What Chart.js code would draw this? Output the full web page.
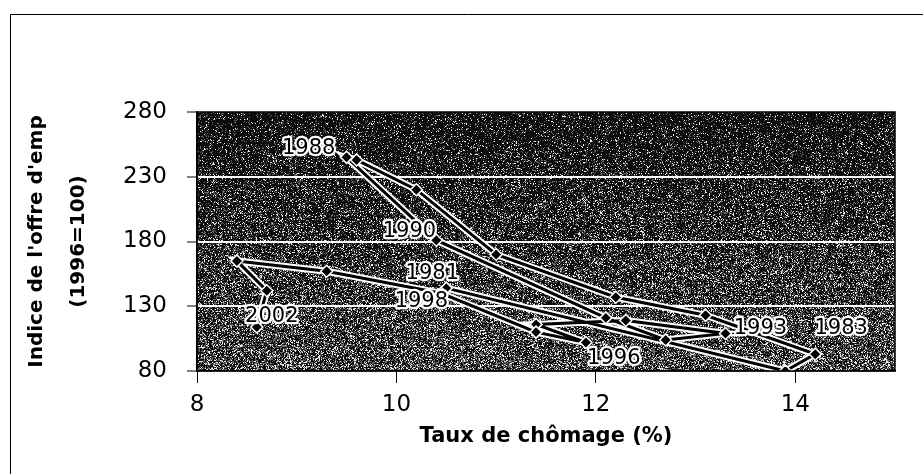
<!DOCTYPE html>
<html>
<head>
<meta charset="utf-8">
<script src="https://cdn.jsdelivr.net/npm/chart.js@4.4.1/dist/chart.umd.min.js"></script>
<style>
  html, body { margin: 0; padding: 0; background: #ffffff; }
  #wrap { width: 923px; height: 474px; position: relative; }
</style>
</head>
<body>
<div id="wrap"><canvas id="c" width="923" height="474"></canvas></div>
<script>
// ---- data ----
const years = [1981,1982,1983,1984,1985,1986,1987,1988,1989,1990,1991,1992,1993,1994,1995,1996,1997,1998,1999,2000,2001,2002];
const unemployment = [10.5,13.9,14.2,13.1,12.2,11.0,10.2,9.6,9.5,10.4,12.1,12.7,13.3,12.3,11.4,11.9,11.4,10.45,9.3,8.4,8.7,8.6];
const vacancyIndex = [144,80,93,123,137,170,220,243,245,181,121,104,109,119,116,102,110,140,157,165,142,114];
const xTicks = [8,10,12,14];
const yTicks = [80,130,180,230,280];
// year labels shown on the chart and where they sit (in data units)
const labelYears = ['1988','1990','1981','1998','2002','1993','1983','1996'];
const labelX = [9.12,10.13,10.36,10.25,8.75,13.65,14.46,12.18];
const labelY = [252,188,155,134,122,113,113,90];

const xTitle = 'Taux de chômage (%)';
const yTitleLines = ["Indice de l'offre d'emp", '(1996=100)'];

const points = unemployment.map((u, i) => ({x: u, y: vacancyIndex[i]}));

// deterministic speckle texture for the plot background
function hash(x, y) {
  let h = (x * 374761393 + y * 668265263) | 0;
  h = Math.imul(h ^ (h >>> 13), 1274126177);
  h = h ^ (h >>> 16);
  return (h >>> 0) / 4294967296;
}
let texCache = null;
function getTexture(w, h) {
  if (texCache && texCache.width === w && texCache.height === h) return texCache;
  const cv = document.createElement('canvas');
  cv.width = w; cv.height = h;
  const cx = cv.getContext('2d');
  const img = cx.createImageData(w, h);
  for (let y = 0; y < h; y++) {
    const f = y / h;
    const pw = 0.05 + 0.14 * f;
    const pg = 0.10 + 0.22 * f;
    for (let x = 0; x < w; x++) {
      const r = hash(x, y);
      let v;
      if (r < pw) v = 235; else if (r < pw + pg) v = 105; else v = 12;
      const k = (y * w + x) * 4;
      img.data[k] = v; img.data[k+1] = v; img.data[k+2] = v; img.data[k+3] = 255;
    }
  }
  cx.putImageData(img, 0, 0);
  texCache = cv;
  return cv;
}

const framePlugin = {
  id: 'frame',
  beforeDraw(chart) {
    const {ctx, chartArea: a} = chart;
    ctx.save();
    ctx.strokeStyle = '#000';
    ctx.lineWidth = 1;
    ctx.beginPath();
    ctx.moveTo(10.5, 480); ctx.lineTo(10.5, 14.5); ctx.lineTo(930, 14.5);
    ctx.stroke();
    const w = Math.round(a.right - a.left), h = Math.round(a.bottom - a.top);
    ctx.drawImage(getTexture(w, h), a.left, a.top);
    ctx.restore();
  },
  afterDatasetsDraw(chart) {
    const {ctx, chartArea: a, scales} = chart;
    ctx.save();
    ctx.strokeStyle = '#000';
    ctx.lineWidth = 1.5;
    ctx.strokeRect(a.left, a.top, a.right - a.left, a.bottom - a.top);
    // year labels
    ctx.font = '21px "DejaVu Sans"';
    ctx.textAlign = 'center';
    ctx.textBaseline = 'middle';
    ctx.lineJoin = 'round';
    labelYears.forEach((t, i) => {
      const px = scales.x.getPixelForValue(labelX[i]);
      const py = scales.y.getPixelForValue(labelY[i]);
      ctx.strokeStyle = '#fff';
      ctx.lineWidth = 4.5;
      ctx.strokeText(t, px, py);
      ctx.fillStyle = '#000';
      ctx.fillText(t, px, py);
    });
    // axis titles
    ctx.fillStyle = '#000';
    ctx.font = 'bold 21px "DejaVu Sans"';
    ctx.textAlign = 'center';
    ctx.textBaseline = 'middle';
    ctx.fillText(xTitle, (a.left + a.right) / 2, 437);
    const cy = (a.top + a.bottom) / 2;
    [[37, yTitleLines[0]], [79, yTitleLines[1]]].forEach(([x, t]) => {
      ctx.save();
      ctx.translate(x, cy);
      ctx.rotate(-Math.PI / 2);
      ctx.font = 'bold 20px "DejaVu Sans"';
      ctx.fillText(t, 0, 0);
      ctx.restore();
    });
    ctx.restore();
  }
};

new Chart(document.getElementById('c'), {
  type: 'scatter',
  data: {
    datasets: [
      {
        data: points,
        showLine: true,
        borderColor: '#ffffff',
        borderWidth: 7,
        pointRadius: 0,
        order: 2
      },
      {
        data: points,
        showLine: true,
        borderColor: '#000000',
        borderWidth: 3,
        pointStyle: 'rectRot',
        pointRadius: 6,
        pointBackgroundColor: '#000000',
        pointBorderColor: '#ffffff',
        pointBorderWidth: 1.5,
        order: 1
      }
    ]
  },
  options: {
    responsive: false,
    animation: false,
    devicePixelRatio: 1,
    layout: { padding: { left: 0, top: 112, right: 28, bottom: 0 } },
    plugins: { legend: { display: false }, tooltip: { enabled: false } },
    scales: {
      x: {
        type: 'linear',
        min: 8, max: 15,
        afterBuildTicks(scale) { scale.ticks = xTicks.map(v => ({value: v})); },
        afterFit(scale) { scale.height = 103; },
        grid: { drawOnChartArea: false, tickLength: 12, tickColor: '#000', color: '#000' },
        border: { display: true, color: '#000', width: 1.5 },
        ticks: { color: '#000', padding: 8, font: { family: 'DejaVu Sans', size: 23 } }
      },
      y: {
        type: 'linear',
        min: 80, max: 280,
        afterBuildTicks(scale) { scale.ticks = yTicks.map(v => ({value: v})); },
        afterFit(scale) { scale.width = 197; },
        grid: {
          color: ctx => (ctx.tick && (ctx.tick.value === 80 || ctx.tick.value === 280)) ? 'rgba(0,0,0,0)' : '#ffffff',
          lineWidth: 2,
          tickLength: 10,
          tickColor: '#000',
          tickWidth: 1
        },
        border: { display: true, color: '#000', width: 1.5 },
        ticks: { color: '#000', padding: 20, font: { family: 'DejaVu Sans', size: 23 } }
      }
    }
  },
  plugins: [framePlugin]
});
</script>
</body>
</html>
